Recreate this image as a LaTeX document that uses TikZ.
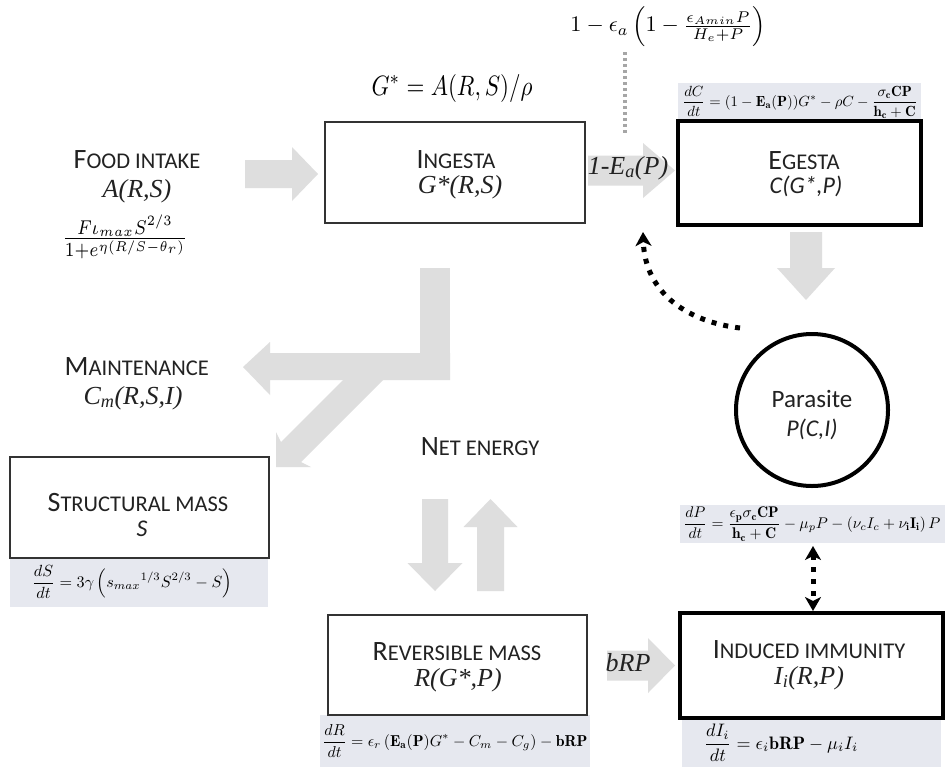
\documentclass[tikz,border=0pt]{standalone}
\usepackage{fontspec}
\usepackage{graphicx}
\usepackage{amsmath}
\newfontfamily\calfont{Carlito}
\newfontfamily\serfont{Liberation Serif}
\usetikzlibrary{arrows.meta}
\definecolor{arrgray}{HTML}{DEDEDE}
\definecolor{bandcol}{HTML}{E6E8EF}
\definecolor{boxline}{HTML}{333333}
\definecolor{txt}{HTML}{222222}
\newcommand\SC[2]{{\fontsize{28}{32}\selectfont #1}{\fontsize{22.5}{32}\selectfont #2}}
\newcommand\harrow[6]{\fill[garrow] ({#1},{#4-#5}) -- ({#3},{#4-#5}) -- ({#3},{#4-#6}) -- ({#2},{#4}) -- ({#3},{#4+#6}) -- ({#3},{#4+#5}) -- ({#1},{#4+#5}) -- cycle;}
\newcommand\varrow[6]{\fill[garrow] ({#4-#5},{#1}) -- ({#4-#5},{#3}) -- ({#4-#6},{#3}) -- ({#4},{#2}) -- ({#4+#6},{#3}) -- ({#4+#5},{#3}) -- ({#4+#5},{#1}) -- cycle;}
\begin{document}
\begin{tikzpicture}[x=1pt,y=-1pt,
  thinbox/.style={draw=boxline, line width=1.2pt, inner sep=0pt},
  thickbox/.style={draw=black, line width=4pt, inner sep=0pt},
  band/.style={fill=bandcol, draw=none},
  scap/.style={font=\calfont, inner sep=0pt, text=txt},
  itl/.style={font=\serfont\fontsize{26}{30}\selectfont\itshape, inner sep=0pt, text=txt},
  sitl/.style={font=\calfont\fontsize{24}{28}\selectfont\itshape, inner sep=0pt, text=txt},
  eq/.style={inner sep=0pt},
  garrow/.style={fill=arrgray, draw=none},
  dotline/.style={line width=5pt, dash pattern=on 5pt off 7pt, black},
]
\fill[white] (0,0) rectangle (947,769);
\path[use as bounding box] (0,0) rectangle (947,769);

% formula bands
\fill[band] (678,83) rectangle (921,121);
\fill[band] (10,558) rectangle (268,607);
\fill[band] (680,505) rectangle (945,543);
\fill[band] (320,715) rectangle (590,767);
\fill[band] (682,720) rectangle (941,767);

% gray block arrows
\harrow{245}{318}{292}{174}{14}{27}
\harrow{588}{675}{643}{170.5}{15}{27.5}
\harrow{607}{675}{648}{665.5}{15}{27.5}
\varrow{232}{300}{268}{806}{16}{29}
\varrow{499}{591}{563}{435}{13}{27.5}
\varrow{591}{499}{527}{490.5}{13.5}{27}
% fork arrow
\fill[garrow] (420,268) rectangle (450,380);
\fill[garrow] (450,353) -- (270,353) -- (270,342) -- (243,367) -- (270,395) -- (270,380) -- (450,380) -- cycle;
\fill[garrow] (368,355) -- (388,375) -- (301,462) -- (311,467) -- (276,467) -- (276,432) -- (281,442) -- cycle;

% dotted gray line
\coordinate (dtop) at (625,52);
\coordinate (dbot) at (625,135);
\draw[line width=4pt, dash pattern=on 3pt off 3pt, black!35] (dtop) -- (dbot);

% boxes
\node[thinbox, minimum width=260pt, minimum height=101pt] (ingesta) at (455,172.5) {};
\node[thinbox, minimum width=259pt, minimum height=101pt] (struct) at (139.5,507.5) {};
\node[thinbox, minimum width=259pt, minimum height=100pt] (revers) at (457.5,665) {};
\node[thickbox, minimum width=243pt, minimum height=104pt] (egesta) at (799.5,173) {};
\node[thickbox, minimum width=263pt, minimum height=105pt] (immun) at (811.5,665.5) {};
\node[thickbox, circle, minimum size=152pt] (parasite) at (812,410) {};

% labels
\node[scap] (foodt) at (137,160) {\SC{F}{OOD INTAKE}};
\node[itl] (foodv) at (137,191) {A(R,S)};
\node[eq] (foodeq) at (125,237) {\resizebox{126pt}{31pt}{$\textstyle\frac{F\iota_{max}S^{2/3}}{1+e^{\eta(R/S-\theta_r)}}$}};

\node[eq] (geq) at (452,88) {\resizebox{161pt}{21pt}{$G^*=A(R,S)/\rho$}};
\node[scap] (ingt) at (456,160) {\SC{I}{NGESTA}};
\node[itl] (ingv) at (460,187) {G*(R,S)};

\node[eq, anchor=north] (topeq) at (668,6) {\resizebox{195pt}{!}{$\displaystyle 1-\epsilon_a\left(1-\textstyle\frac{\epsilon_{Amin}P}{H_e+P}\right)$}};
\node[itl] (ealbl) at (628,168) {1-E\textsubscript{a}(P)};

\node[eq, anchor=south] (egeq) at (800,119) {\resizebox{235pt}{!}{$\displaystyle\frac{dC}{dt}=(1-\mathbf{E_a}(\mathbf{P}))G^*-\rho C-\frac{\sigma_{\mathbf c}\mathbf{CP}}{\mathbf{h_c}+\mathbf{C}}$}};
\node[scap] (egt) at (804,161) {\SC{E}{GESTA}};
\node[sitl] (egv) at (806,186) {C(G*,P)};

\node[scap, anchor=east] (maintt) at (209,367) {\SC{M}{AINTENANCE}};
\node[itl] (maintv) at (133,398) {C\textsubscript{m}(R,S,I)};

\node[scap] (strt) at (138,502) {\SC{S}{TRUCTURAL MASS}};
\node[sitl] (strv) at (142,529) {S};
\node[eq] (streq) at (132,582) {\resizebox{200pt}{!}{$\displaystyle\frac{dS}{dt}=3\gamma\left({s_{max}}^{1/3}S^{2/3}-S\right)$}};

\node[scap] (nett) at (480,447) {\SC{N}{ET ENERGY}};

\node[font=\calfont\fontsize{25}{28}\selectfont, inner sep=0pt, text=txt] (part) at (812,399) {Parasite};
\node[sitl] (parv) at (812,429) {P(C,I)};
\node[eq] (pareq) at (812,524) {\resizebox{257pt}{!}{$\displaystyle\frac{dP}{dt}=\frac{\epsilon_{\mathbf p}\sigma_{\mathbf c}\mathbf{CP}}{\mathbf{h_c}+\mathbf{C}}-\mu_pP-\left(\nu_cI_c+\nu_{\mathbf i}\mathbf{I_i}\right)P$}};

\node[scap] (revt) at (457,652) {\SC{R}{EVERSIBLE MASS}};
\node[itl] (revv) at (458,680) {R(G*,P)};
\node[eq] (reveq) at (455,741) {\resizebox{265pt}{!}{$\displaystyle\frac{dR}{dt}=\epsilon_r\left(\mathbf{E_a}(\mathbf{P})G^*-C_m-C_g\right)-\mathbf{bRP}$}};

\node[itl] (brp) at (628,663) {bRP};
\node[scap] (immt) at (809,650) {\SC{I}{NDUCED IMMUNITY}};
\node[itl] (immv) at (809,678) {I\textsubscript{i}(R,P)};
\node[eq] (immeq) at (781,743) {\resizebox{154pt}{!}{$\displaystyle\frac{dI_i}{dt}=\epsilon_i\mathbf{bRP}-\mu_iI_i$}};

% dotted connectors
\coordinate (cstart) at (740,328);
\coordinate (ctip) at (643,232);
\draw[dotline, -{Stealth[length=14pt,width=16pt,inset=4pt]}] (cstart) .. controls (690,322) and (645,295) .. (ctip);
\coordinate (dA) at (813,546);
\coordinate (dB) at (813,611);
\draw[dotline, {Stealth[length=14pt,width=16pt,inset=4pt]}-{Stealth[length=14pt,width=16pt,inset=4pt]}] (dA) -- (dB);
\end{tikzpicture}
\end{document}
